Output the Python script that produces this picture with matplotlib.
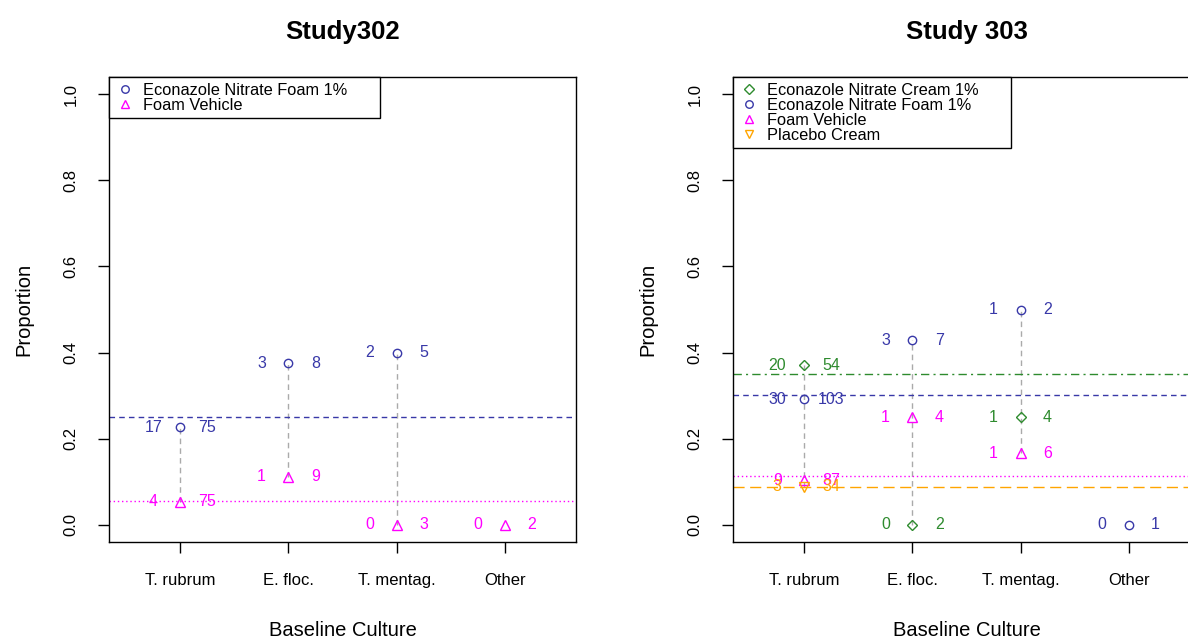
import matplotlib
matplotlib.use("Agg")
import matplotlib.pyplot as plt
from matplotlib.lines import Line2D

plt.rcParams['font.family'] = ['Liberation Sans', 'DejaVu Sans']

cultures = ["T. rubrum", "E. floc.", "T. mentag.", "Other"]

# Study 302: responders / n per baseline culture (None = no patients)
s302_foam_num = [17, 3, 2, None]
s302_foam_den = [75, 8, 5, None]
s302_veh_num = [4, 1, 0, 0]
s302_veh_den = [75, 9, 3, 2]

# Study 303
s303_cream_num = [20, 0, 1, None]
s303_cream_den = [54, 2, 4, None]
s303_foam_num = [30, 3, 1, 0]
s303_foam_den = [103, 7, 2, 1]
s303_veh_num = [9, 1, 1, None]
s303_veh_den = [87, 4, 6, None]
s303_plac_num = [3, None, None, None]
s303_plac_den = [34, None, None, None]

BLUE = '#3838a8'
MAGENTA = '#ff00ff'
GREEN = '#2e8b2e'
ORANGE = '#ffa500'

styles = {
    "Econazole Nitrate Cream 1%": dict(marker='D', color=GREEN, ms=5.5, ls=(0, (6, 3, 1.5, 3))),
    "Econazole Nitrate Foam 1%": dict(marker='o', color=BLUE, ms=6, ls=(0, (4, 3))),
    "Foam Vehicle": dict(marker='^', color=MAGENTA, ms=6.5, ls=(0, (1, 2))),
    "Placebo Cream": dict(marker='v', color=ORANGE, ms=6.5, ls=(0, (8, 4))),
}


def draw_study(ax, title, groups):
    # gray connector between points of the same culture
    for i in range(len(cultures)):
        vals = [num[i] / den[i] for _, num, den in groups if num[i] is not None]
        if len(vals) > 1:
            ax.plot([i + 1, i + 1], [min(vals), max(vals)], color='#aaaaaa',
                    ls=(0, (4, 3)), lw=1, zorder=1)
    handles = []
    for name, num, den in groups:
        st = styles[name]
        tot = sum(n for n in num if n is not None) / sum(d for d in den if d is not None)
        ax.axhline(tot, color=st['color'], ls=st['ls'], lw=1, zorder=1)
        for i in range(len(cultures)):
            if num[i] is None:
                continue
            p = num[i] / den[i]
            ax.plot(i + 1, p, marker=st['marker'], ms=st['ms'], mfc='none',
                    mec=st['color'], mew=1, ls='none', zorder=3)
            ax.text(i + 1 - 0.25, p, str(num[i]), color=st['color'], ha='center',
                    va='center', fontsize=11.5)
            ax.text(i + 1 + 0.25, p, str(den[i]), color=st['color'], ha='center',
                    va='center', fontsize=11.5)
        handles.append(Line2D([], [], marker=st['marker'], ms=st['ms'] * 0.9, mfc='none',
                              mec=st['color'], mew=1, ls='none', label=name + "      "))
    leg = ax.legend(handles=handles, loc='upper left', bbox_to_anchor=(0, 1),
                    borderaxespad=0, fancybox=False, edgecolor='black', framealpha=1,
                    fontsize=11.8, handlelength=1.2, handletextpad=0.5, labelspacing=0.0,
                    borderpad=0.35)
    leg.get_frame().set_linewidth(1)
    ax.set_xlim(0.34, 4.66)
    ax.set_ylim(-0.04, 1.04)
    ax.set_xticks(range(1, 5))
    ax.set_xticklabels(cultures)
    ax.set_yticks([0, 0.2, 0.4, 0.6, 0.8, 1.0])
    ax.set_yticklabels(["0.0", "0.2", "0.4", "0.6", "0.8", "1.0"], rotation=90, va='center')
    ax.tick_params(direction='out', length=8, width=1, labelsize=12, pad=14)
    for sp in ax.spines.values():
        sp.set_linewidth(1)
    ax.set_title(title, fontsize=18.5, fontweight='bold', pad=27)
    ax.set_xlabel("Baseline Culture", fontsize=14.5, labelpad=24)
    ax.set_ylabel("Proportion", fontsize=14.5, labelpad=22)


fig = plt.figure(figsize=(11.88, 6.42), dpi=100)
ax1 = fig.add_axes([109 / 1188, 100 / 642, 467 / 1188, 465 / 642])
ax2 = fig.add_axes([733 / 1188, 100 / 642, 467 / 1188, 465 / 642])

draw_study(ax1, "Study302", [
    ("Econazole Nitrate Foam 1%", s302_foam_num, s302_foam_den),
    ("Foam Vehicle", s302_veh_num, s302_veh_den),
])
draw_study(ax2, "Study 303", [
    ("Econazole Nitrate Cream 1%", s303_cream_num, s303_cream_den),
    ("Econazole Nitrate Foam 1%", s303_foam_num, s303_foam_den),
    ("Foam Vehicle", s303_veh_num, s303_veh_den),
    ("Placebo Cream", s303_plac_num, s303_plac_den),
])

fig.savefig("out.png", dpi=100)
